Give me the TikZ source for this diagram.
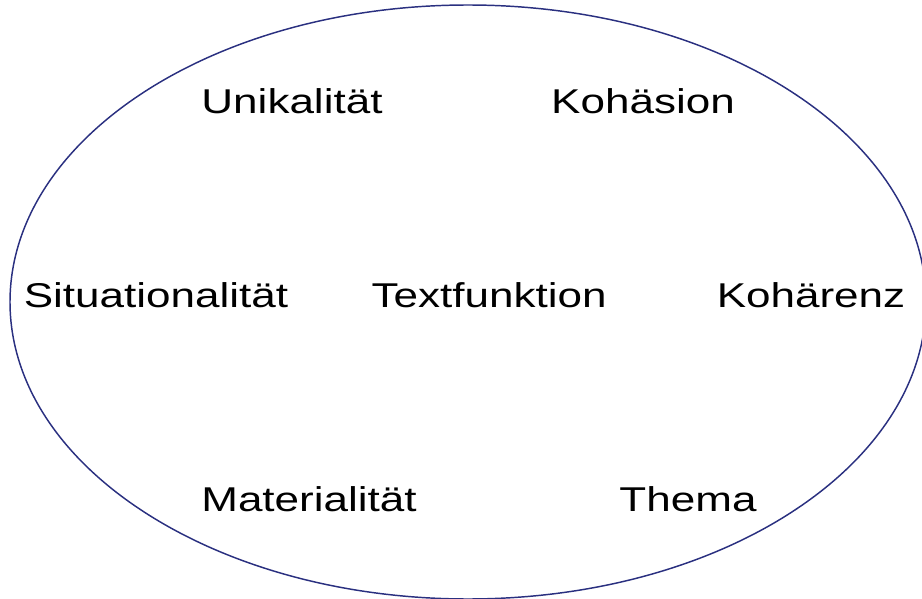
\documentclass[tikz,border=0pt]{standalone}
\usepackage{fontspec}
\setmainfont{Liberation Sans}
\usepackage{tikz}
\definecolor{rand}{RGB}{42,48,128}

\begin{document}
\begin{tikzpicture}[x=0.75pt,y=-0.75pt]
\tikzstyle{every node}+=[inner sep=0pt]
\tikzstyle{merkmal}=[anchor=base,xscale=1.28,font=\fontsize{25.8}{30}\selectfont]
\useasboundingbox (0,0) rectangle (922,599);
\draw [rand,line width=1.1pt] (468,302) ellipse (458 and 297);
\node [merkmal] (unikal) at (292,114) {Unikalität};
\node [merkmal] (kohaes) at (643,114) {Kohäsion};
\node [merkmal] (situat) at (156,308) {Situationalität};
\node [merkmal] (funkt) at (489,308) {Textfunktion};
\node [merkmal] (kohaer) at (811,308) {Kohärenz};
\node [merkmal] (mater) at (309,511) {Materialität};
\node [merkmal] (thema) at (688,511) {Thema};
\end{tikzpicture}
\end{document}
